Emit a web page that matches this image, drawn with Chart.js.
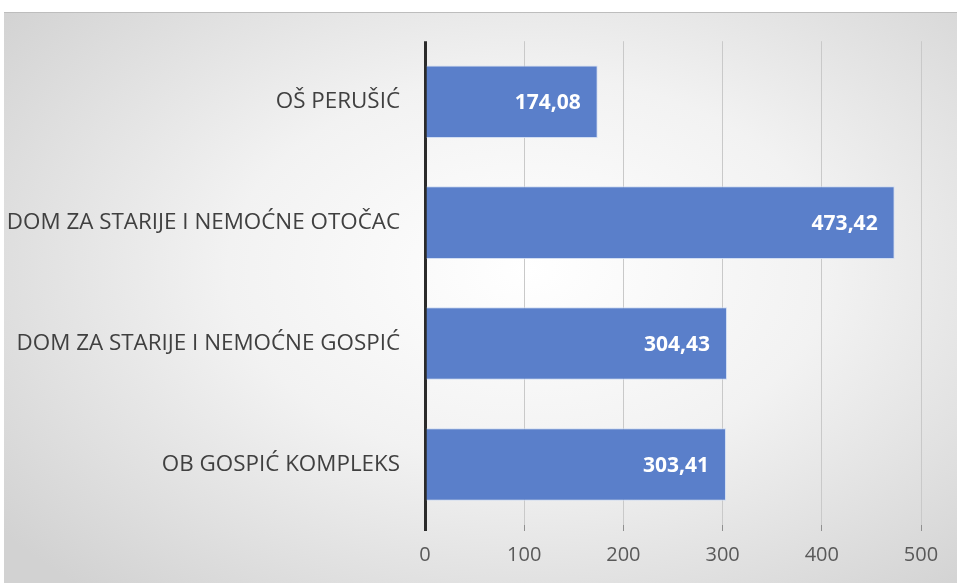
<!DOCTYPE html>
<html>
<head>
<meta charset="utf-8">
<script src="https://cdn.jsdelivr.net/npm/chart.js@4/dist/chart.umd.min.js"></script>
<style>
  html, body { margin: 0; padding: 0; background: #fff; }
  #panel {
    position: absolute; left: 4px; top: 12px; width: 953px; height: 571px;
    background: radial-gradient(ellipse 70% 75% at 55% 45%, #ffffff 0%, #f2f2f2 45%, #d2d2d2 100%);
    border-top: 1px solid #bdbdbd;
    box-sizing: border-box;
  }
  canvas { display: block; }
</style>
</head>
<body>
<div id="panel"><canvas id="chart" width="953" height="570"></canvas></div>
<script>
// data
const categories = ['OŠ PERUŠIĆ', 'DOM ZA STARIJE I NEMOĆNE OTOČAC', 'DOM ZA STARIJE I NEMOĆNE GOSPIĆ', 'OB GOSPIĆ KOMPLEKS'];
const values = [174.08, 473.42, 304.43, 303.41];
const axisTicks = [0, 100, 200, 300, 400, 500];

const fontFam = "'Open Sans', 'Noto Sans', sans-serif";

// white value labels at the end of each bar
const valueLabels = {
    id: 'valueLabels',
    afterDatasetsDraw(chart) {
        const ctx = chart.ctx;
        const meta = chart.getDatasetMeta(0);
        ctx.save();
        ctx.font = 'bold 21px ' + fontFam;
        ctx.fillStyle = '#ffffff';
        ctx.textAlign = 'right';
        ctx.textBaseline = 'middle';
        meta.data.forEach((bar, i) => {
            const txt = values[i].toFixed(2).replace('.', ',');
            ctx.fillText(txt, bar.x - 17, bar.y + 1);
        });
        ctx.restore();
    }
};

const ctx = document.getElementById('chart').getContext('2d');

new Chart(ctx, {
    type: 'bar',
    data: {
        labels: categories,
        datasets: [{
            data: values,
            backgroundColor: '#5a7fca',
            borderColor: 'rgba(205,218,242,0.9)',
            borderWidth: 1,
            barPercentage: 1,
            categoryPercentage: 0.6
        }]
    },
    options: {
        indexAxis: 'y',
        responsive: false,
        animation: false,
        devicePixelRatio: 1,
        layout: { padding: { top: 28, right: 36, left: 0, bottom: 0 } },
        plugins: {
            legend: { display: false },
            tooltip: { enabled: false }
        },
        scales: {
            x: {
                min: axisTicks[0],
                max: axisTicks[axisTicks.length - 1],
                afterBuildTicks: (scale) => { scale.ticks = axisTicks.map(v => ({ value: v })); },
                border: { display: false },
                grid: {
                    color: (c) => c.tick && c.tick.value === 0 ? '#2b2b2b' : '#c9c9c9',
                    tickColor: (c) => c.tick && c.tick.value === 0 ? '#2b2b2b' : '#8f8f8f',
                    lineWidth: (c) => c.tick && c.tick.value === 0 ? 3 : 1,
                    tickLength: 6
                },
                ticks: {
                    padding: 12,
                    color: '#595959',
                    font: { family: fontFam, size: 20 }
                },
                afterFit: (scale) => { scale.height = 58; }
            },
            y: {
                grid: { display: false },
                border: { display: false },
                ticks: {
                    padding: 17,
                    color: '#404040',
                    font: { family: fontFam, size: 22.4, lineHeight: 1 }
                },
                afterFit: (scale) => { scale.width = 421; }
            }
        }
    },
    plugins: [valueLabels]
});
</script>
</body>
</html>
